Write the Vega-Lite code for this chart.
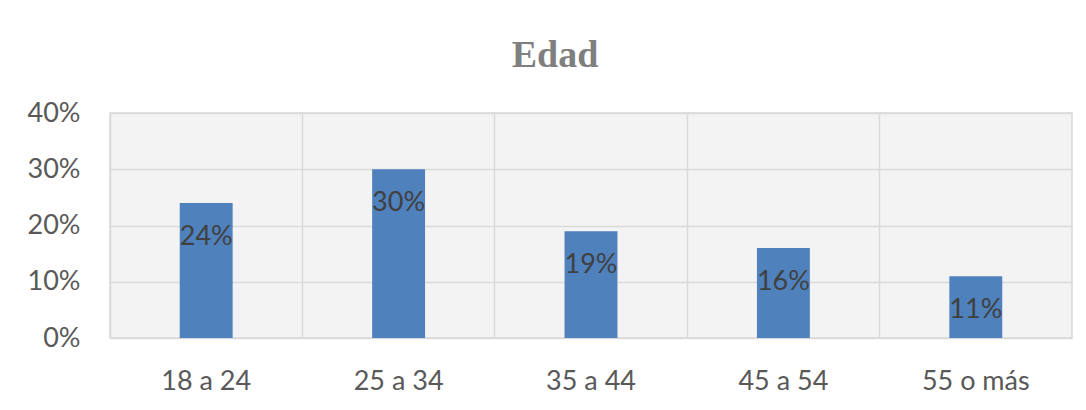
{
  "$schema": "https://vega.github.io/schema/vega-lite/v6.json",
  "autosize": {"type": "none"},
  "width": 962,
  "height": 225,
  "padding": {"left": 110, "top": 113, "right": 14, "bottom": 72},
  "background": "white",
  "title": {
    "text": "Edad",
    "font": "Liberation Serif",
    "fontSize": 38,
    "fontWeight": "bold",
    "color": "#7f7f7f",
    "anchor": "middle",
    "dx": -36,
    "offset": 24
  },
  "config": {
    "view": {"fill": "#f3f3f3", "stroke": "#d9d9d9", "strokeWidth": 1.5},
    "axis": {"labelFont": "Lato", "labelColor": "#595959", "labelFontSize": 27, "ticks": false, "domain": false, "title": null, "gridColor": "#d9d9d9", "gridWidth": 1.5, "labelOverlap": false}
  },
  "data": {
    "values": [
      {"edad": "18 a 24", "pct": 0.24},
      {"edad": "25 a 34", "pct": 0.30},
      {"edad": "35 a 44", "pct": 0.19},
      {"edad": "45 a 54", "pct": 0.16},
      {"edad": "55 o más", "pct": 0.11}
    ]
  },
  "encoding": {
    "x": {
      "field": "edad", "type": "nominal", "sort": null,
      "scale": {"padding": 0},
      "axis": {"labelAngle": 0, "labelPadding": 30, "grid": true, "bandPosition": 0}
    },
    "y": {
      "field": "pct", "type": "quantitative",
      "scale": {"domain": [0, 0.4]},
      "axis": {"format": ".0%", "values": [0, 0.1, 0.2, 0.3, 0.4], "labelPadding": 30, "grid": true}
    }
  },
  "layer": [
    {"mark": {"type": "bar", "color": "#4f81bd", "width": {"band": 0.275}}},
    {
      "mark": {"type": "text", "font": "Lato", "fontSize": 27, "color": "#404040", "baseline": "middle", "dy": 34},
      "encoding": {"text": {"field": "pct", "type": "quantitative", "format": ".0%"}}
    }
  ]
}
